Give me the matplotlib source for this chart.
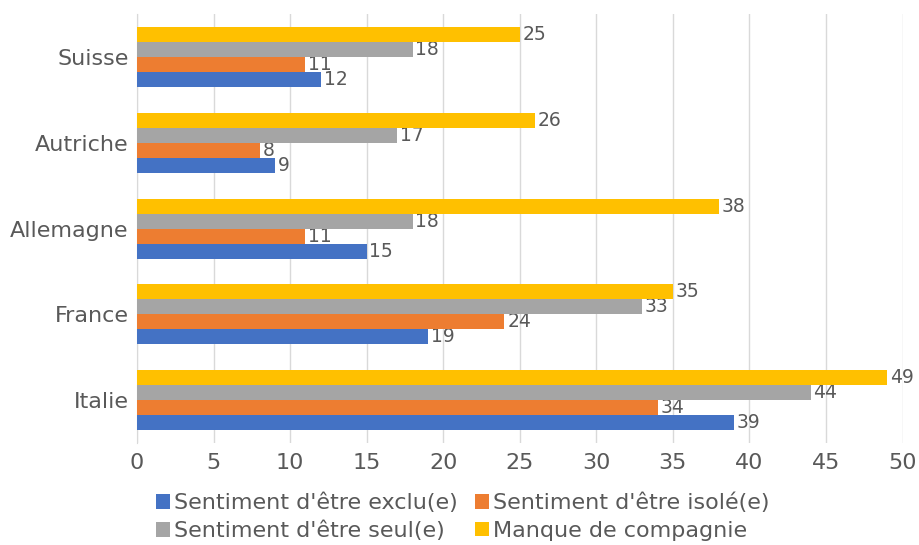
import numpy as np
import matplotlib.pyplot as plt

pays = ['Italie', 'France', 'Allemagne', 'Autriche', 'Suisse']
exclu = [39, 19, 15, 9, 12]
isole = [34, 24, 11, 8, 11]
seul = [44, 33, 18, 17, 18]
compagnie = [49, 35, 38, 26, 25]

series = [
    ("Sentiment d'être exclu(e)", exclu, '#4472C4'),
    ("Sentiment d'être isolé(e)", isole, '#ED7D31'),
    ("Sentiment d'être seul(e)", seul, '#A5A5A5'),
    ("Manque de compagnie", compagnie, '#FFC000'),
]

txt = '#595959'
fig = plt.figure(figsize=(9.2, 5.45), dpi=100)
ax = fig.add_axes([0.149, 0.187, 0.832, 0.787])

y = np.arange(len(pays))
h = 0.175
handles = []
for i, (nom, vals, col) in enumerate(series):
    pos = y + (i - 1.5) * h
    bars = ax.barh(pos, vals, height=h, color=col, label=nom, zorder=3)
    handles.append(bars)
    ax.bar_label(bars, labels=[str(v) for v in vals], padding=2,
                 fontsize=13.5, color=txt)

ax.set_xlim(0, 50)
ax.set_ylim(-0.5, 4.5)
ax.set_xticks(range(0, 51, 5))
ax.set_yticks(y)
ax.set_yticklabels(pays)
ax.tick_params(axis='both', length=0, labelsize=16, colors=txt)
ax.tick_params(axis='x', pad=7)
ax.tick_params(axis='y', pad=6)
ax.grid(axis='x', color='#D9D9D9', linewidth=1, zorder=0)
for s in ['top', 'right', 'bottom']:
    ax.spines[s].set_visible(False)
ax.spines['left'].set_color('#D9D9D9')

# ordre des colonnes : exclu / seul puis isolé / compagnie
order = [0, 2, 1, 3]
fig.legend([handles[k] for k in order], [series[k][0] for k in order],
           loc='lower center', bbox_to_anchor=(0.503, -0.03), ncol=2,
           frameon=False, fontsize=16, labelcolor=txt,
           handlelength=0.63, handleheight=0.63, handletextpad=0.15,
           columnspacing=0.8, labelspacing=0.35)

fig.savefig('out.png', dpi=100)
